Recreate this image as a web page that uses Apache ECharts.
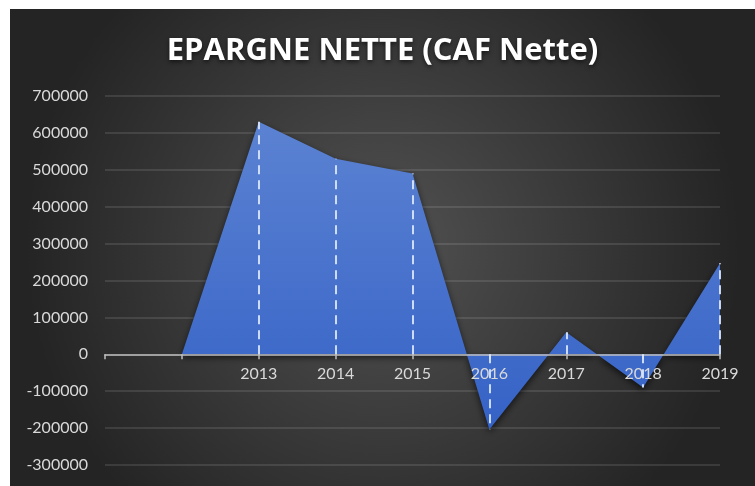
<!DOCTYPE html>
<html>
<head>
<meta charset="utf-8">
<script src="https://cdn.jsdelivr.net/npm/echarts@6/dist/echarts.min.js"></script>
<style>
  html, body { margin: 0; padding: 0; background: #ffffff; }
  #chart { position: absolute; left: 10px; top: 9px; width: 745px; height: 477px; }
</style>
</head>
<body>
<div id="chart"></div>
<script>
// catégories (les deux premières sont vides, comme dans le graphique Excel)
const categories = ['', '', '2013', '2014', '2015', '2016', '2017', '2018', '2019'];
const epargne = [null, 0, 630000, 530000, 490000, -204000, 60000, -90000, 247000];
const yTicks = { min: -300000, max: 700000, interval: 100000 };

const chart = echarts.init(document.getElementById('chart'));

const gridTop = 87, gridBottom = 21;
const gridHeight = 477 - gridTop - gridBottom;
// l'axe des catégories passe par zéro
const zeroOffset = -gridHeight * (0 - yTicks.min) / (yTicks.max - yTicks.min);

// lignes de projection verticales (pointillés) pour chaque année
const dropLines = categories
    .map(function (c, i) { return [c, epargne[i]]; })
    .filter(function (d) { return d[0] !== ''; })
    .map(function (d) {
        return [{ coord: [d[0], 0] }, { coord: [d[0], d[1]] }];
    });

const option = {
    backgroundColor: {
        type: 'radial', x: 0.5, y: 0.5, r: 0.75,
        colorStops: [
            { offset: 0, color: '#525252' },
            { offset: 1, color: '#242424' }
        ]
    },
    title: {
        text: 'EPARGNE NETTE (CAF Nette)',
        left: 'center',
        top: 22,
        textStyle: {
            color: '#ffffff',
            fontFamily: 'Open Sans',
            fontWeight: 'bold',
            fontSize: 31,
            textShadowColor: 'rgba(0,0,0,0.6)',
            textShadowBlur: 4,
            textShadowOffsetY: 2
        }
    },
    grid: { left: 95, right: 35, top: gridTop, bottom: gridBottom },
    xAxis: {
        type: 'category',
        data: categories,
        boundaryGap: false,
        position: 'bottom',
        offset: zeroOffset,
        z: 5,
        axisLine: { onZero: false, lineStyle: { color: '#bfbfbf', width: 1.5 } },
        axisTick: { length: 5, lineStyle: { color: '#bfbfbf', width: 1.5 } },
        axisLabel: { color: '#d9d9d9', fontSize: 16, fontFamily: 'Lato', margin: 12 },
        splitLine: { show: false }
    },
    yAxis: {
        type: 'value',
        min: yTicks.min,
        max: yTicks.max,
        interval: yTicks.interval,
        axisLine: { show: false },
        axisTick: { show: false },
        axisLabel: {
            color: '#d9d9d9', fontSize: 16, fontFamily: 'Lato', margin: 17,
            formatter: function (v) { return String(v); }
        },
        splitLine: { lineStyle: { color: 'rgba(255,255,255,0.14)', width: 1.5 } }
    },
    series: [{
        type: 'line',
        data: epargne,
        symbol: 'none',
        lineStyle: { width: 0 },
        areaStyle: {
            color: {
                type: 'linear', x: 0, y: 0, x2: 0, y2: 1,
                colorStops: [
                    { offset: 0, color: '#5b82d2' },
                    { offset: 1, color: '#3562c6' }
                ]
            },
            opacity: 1,
            shadowColor: 'rgba(0,0,0,0.65)',
            shadowBlur: 7,
            shadowOffsetY: 3
        },
        markLine: {
            silent: true,
            symbol: 'none',
            z: 6,
            label: { show: false },
            lineStyle: { color: 'rgba(220,232,255,0.9)', type: [9, 6], width: 2 },
            data: dropLines
        }
    }]
};

chart.setOption(option);
</script>
</body>
</html>
